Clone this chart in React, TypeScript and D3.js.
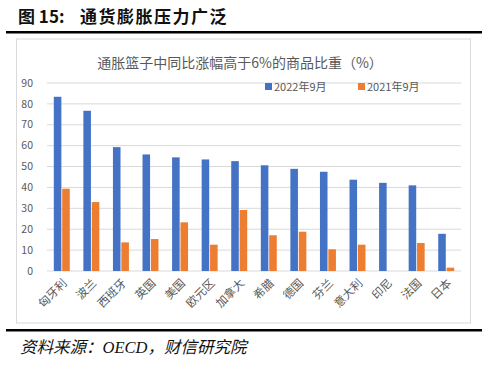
import React from "react";
import * as d3 from "d3";

const categories = ["匈牙利", "波兰", "西班牙", "英国", "美国", "欧元区", "加拿大", "希腊", "德国", "芬兰", "意大利", "印尼", "法国", "日本"];
const series2022 = [83.4, 76.7, 59.3, 55.8, 54.4, 53.4, 52.6, 50.6, 48.9, 47.5, 43.7, 42.2, 41.0, 17.8];
const series2021: (number | null)[] = [39.4, 33.0, 13.7, 15.3, 23.3, 12.6, 29.2, 17.1, 18.8, 10.4, 12.6, null, 13.4, 1.6];
const seriesNames = ["2022年9月", "2021年9月"];
const yTicks = [0, 10, 20, 30, 40, 50, 60, 70, 80, 90];

const W = 500, H = 366;
const BLUE = "#4472C4", ORANGE = "#ED7D31";
const cjk = "'Noto Sans CJK SC', 'Noto Sans', sans-serif";

export default function App() {
  const x0 = d3.scaleBand<string>().domain(categories).range([47, 461]).paddingInner(0.46).paddingOuter(0.23);
  const x1 = d3.scaleBand<string>().domain(seriesNames).range([0, x0.bandwidth()]).paddingInner(0.1);
  const y = d3.scaleLinear().domain([0, 90]).range([271, 83]);
  const step = (461 - 47) / categories.length;

  return (
    <svg width={W} height={H} style={{ position: "absolute", left: 0, top: 0, background: "#fff" }}>
      <rect x={0} y={0} width={W} height={H} fill="#fff" />
      <text x={18} y={23} fontFamily={cjk} fontWeight="bold" fontSize={17} fill="#111">
        <tspan>图 15:</tspan>
        <tspan x={80} letterSpacing={1.5}>通货膨胀压力广泛</tspan>
      </text>
      <rect x={6} y={31} width={476} height={2.5} fill="#000" />
      <rect x={16.5} y={39} width={454} height={284} fill="#fff" stroke="#d9d9d9" strokeWidth={1} />
      <text x={240} y={68} textAnchor="middle" fontFamily={cjk} fontSize={14} fill="#595959">通胀篮子中同比涨幅高于6%的商品比重（%）</text>
      {yTicks.map((t) => (
        <g key={t}>
          <line x1={47} x2={461} y1={y(t)} y2={y(t)} stroke="#d9d9d9" strokeWidth={1} />
          <text x={33} y={y(t)} dy="0.35em" textAnchor="end" fontFamily={cjk} fontSize={10.5} fill="#595959">{t}</text>
        </g>
      ))}
      {categories.map((c, i) => (
        <g key={c} transform={`translate(${x0(c)},0)`}>
          <rect x={x1(seriesNames[0])} y={y(series2022[i])} width={x1.bandwidth()} height={y(0) - y(series2022[i])} fill={BLUE} />
          {series2021[i] != null && (
            <rect x={x1(seriesNames[1])} y={y(series2021[i] as number)} width={x1.bandwidth()} height={y(0) - y(series2021[i] as number)} fill={ORANGE} />
          )}
        </g>
      ))}
      {categories.map((c, i) => {
        const cx = 47 + step * (i + 0.5);
        return (
          <text key={c} transform={`translate(${cx + 3},${281}) rotate(-45)`} textAnchor="end" dy="0.35em" fontFamily={cjk} fontSize={11.5} fill="#595959">{c}</text>
        );
      })}
      <g>
        <rect x={265} y={83} width={7} height={7} fill={BLUE} />
        <text x={274} y={87} dy="0.35em" fontFamily={cjk} fontSize={11} fill="#595959">{seriesNames[0]}</text>
        <rect x={358} y={83} width={7} height={7} fill={ORANGE} />
        <text x={367} y={87} dy="0.35em" fontFamily={cjk} fontSize={11} fill="#595959">{seriesNames[1]}</text>
      </g>
      <rect x={6} y={329} width={476} height={2.5} fill="#000" />
      <text x={20} y={353} fontFamily={`'Liberation Serif', ${cjk}`} fontStyle="italic" fontSize={16.5} fill="#111">资料来源：OECD，财信研究院</text>
    </svg>
  );
}
